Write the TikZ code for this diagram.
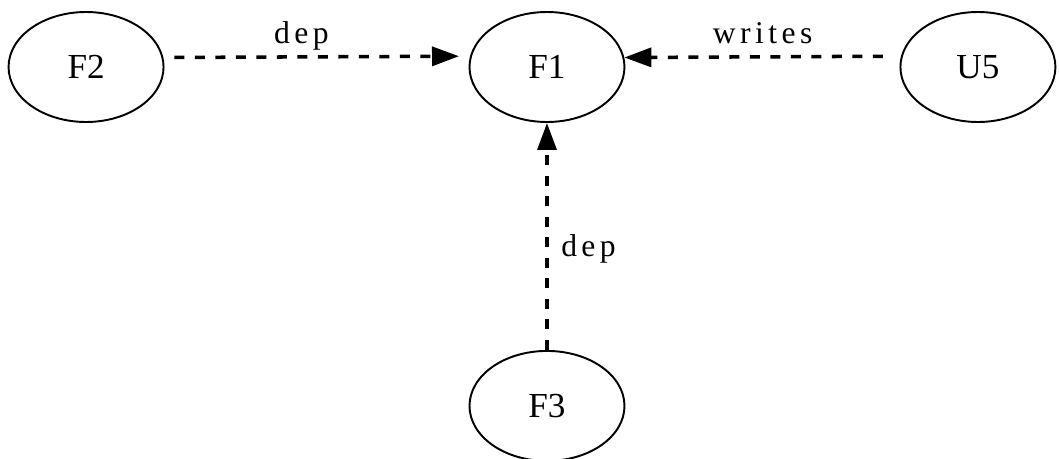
\documentclass[tikz,border=0pt]{standalone}
\usepackage{fontspec}
\setmainfont{Liberation Serif}
\newfontfamily\spacedfont[LetterSpace=14]{Liberation Serif}
\usetikzlibrary{arrows.meta, positioning, shapes.geometric}

\begin{document}
\begin{tikzpicture}[
    unit/.style={draw, ellipse, line width=1.1pt, inner sep=0pt, minimum width=3.1cm, minimum height=2.2cm, font=\fontsize{20}{24}\selectfont},
    link/.style={line width=2pt, dash pattern=on 0.2cm off 0.21cm, -{Triangle[length=5.4mm, width=3.8mm]}},
    tag/.style={font=\spacedfont\fontsize{18}{22}\selectfont, text depth=0.22em, inner sep=0.15cm}
]
    \useasboundingbox (-10.94,1.34) rectangle (10.24,-7.84);
    \node[unit] (f1) at (0,0) {F1};
    \node[unit, left=6.08cm of f1] (f2) {F2};
    \node[unit, right=5.48cm of f1] (u5) {U5};
    \node[unit, below=4.54cm of f1] (f3) {F3};

    \draw[link, shorten <=0.22cm, shorten >=0.22cm] (f2.7.5) -- node[tag, above, pos=0.45] {dep} (f1.172.5);
    \draw[link, shorten <=0.36cm] (u5.172.5) -- node[tag, above] {writes} (f1.7.5);
    \draw[link] (f3.north) -- node[tag, right, pos=0.45, xshift=0.1cm] {dep} (f1.south);
\end{tikzpicture}
\end{document}
